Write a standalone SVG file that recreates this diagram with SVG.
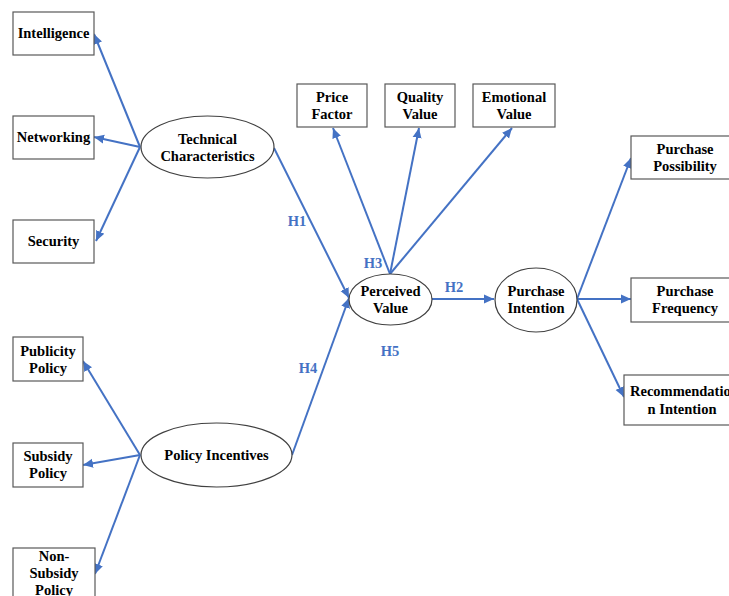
<svg xmlns="http://www.w3.org/2000/svg" width="729" height="596" viewBox="0 0 729 596">
<defs>
<marker id="ah" markerUnits="userSpaceOnUse" markerWidth="12" markerHeight="10" refX="10" refY="5" orient="auto">
<path d="M0,0.5 L10,5 L0,9.5 Z" fill="#4472C4"/>
</marker>
<style>
.box{fill:#fff;stroke:#595959;stroke-width:1.2}
.ell{fill:#fff;stroke:#404040;stroke-width:1.2}
.t{font-family:"Liberation Serif","DejaVu Serif","Times New Roman",serif;font-weight:bold;font-size:14.5px;fill:#000;text-anchor:middle}
.h{font-family:"Liberation Serif","DejaVu Serif","Times New Roman",serif;font-weight:bold;font-size:14.5px;fill:#4472C4;text-anchor:middle}
.c{stroke:#4472C4;stroke-width:2;fill:none;marker-end:url(#ah)}
</style>
</defs>
<rect width="729" height="596" fill="#fff"/>
<g id="connectors">
<line class="c" x1="140" y1="147" x2="94" y2="34"/>
<line class="c" x1="140" y1="147" x2="94" y2="137"/>
<line class="c" x1="140" y1="147" x2="96" y2="241"/>
<line class="c" x1="140" y1="455" x2="83" y2="361"/>
<line class="c" x1="140" y1="455" x2="83" y2="465"/>
<line class="c" x1="140" y1="455" x2="95" y2="574"/>
<line class="c" x1="274" y1="148" x2="349" y2="298"/>
<line class="c" x1="292" y1="455" x2="349" y2="298"/>
<line class="c" x1="390" y1="274" x2="333" y2="128"/>
<line class="c" x1="390" y1="274" x2="419" y2="128"/>
<line class="c" x1="390" y1="274" x2="512" y2="128"/>
<line class="c" x1="432" y1="299" x2="494" y2="299"/>
<line class="c" x1="577" y1="299" x2="631" y2="158"/>
<line class="c" x1="577" y1="299" x2="631" y2="299"/>
<line class="c" x1="577" y1="299" x2="624" y2="397"/>
<text class="h" x="297" y="226">H1</text>
<text class="h" x="373" y="268">H3</text>
<text class="h" x="454" y="292">H2</text>
<text class="h" x="390" y="356">H5</text>
<text class="h" x="308" y="373">H4</text>
</g>
<g id="intelligence"><rect class="box" x="13" y="12" width="81" height="43"/><text class="t" x="53.5" y="38">Intelligence</text></g>
<g id="networking"><rect class="box" x="13" y="116" width="81" height="43"/><text class="t" x="53.5" y="142">Networking</text></g>
<g id="security"><rect class="box" x="13" y="220" width="81" height="43"/><text class="t" x="53.5" y="246">Security</text></g>
<g id="technical"><ellipse class="ell" cx="207.5" cy="147" rx="66.5" ry="31"/><text class="t" x="207.5" y="143.5">Technical</text><text class="t" x="207.5" y="160.5">Characteristics</text></g>
<g id="price"><rect class="box" x="297" y="84" width="70" height="43"/><text class="t" x="332" y="101.5">Price</text><text class="t" x="332" y="118.5">Factor</text></g>
<g id="quality"><rect class="box" x="385" y="84" width="70" height="43"/><text class="t" x="420" y="101.5">Quality</text><text class="t" x="420" y="118.5">Value</text></g>
<g id="emotional"><rect class="box" x="473" y="84" width="82" height="43"/><text class="t" x="514" y="101.5">Emotional</text><text class="t" x="514" y="118.5">Value</text></g>
<g id="perceived"><ellipse class="ell" cx="390.5" cy="299.5" rx="41.5" ry="25.5"/><text class="t" x="390.5" y="295.5">Perceived</text><text class="t" x="390.5" y="312.5">Value</text></g>
<g id="intention"><ellipse class="ell" cx="536" cy="300" rx="41" ry="32"/><text class="t" x="536" y="295.5">Purchase</text><text class="t" x="536" y="312.5">Intention</text></g>
<g id="possibility"><rect class="box" x="631" y="136" width="108" height="43"/><text class="t" x="685" y="153.5">Purchase</text><text class="t" x="685" y="170.5">Possibility</text></g>
<g id="frequency"><rect class="box" x="631" y="278" width="108" height="44"/><text class="t" x="685" y="295.5">Purchase</text><text class="t" x="685" y="312.5">Frequency</text></g>
<g id="recommendation"><rect class="box" x="624" y="375" width="116" height="50"/><text class="t" x="630" y="395.5" style="text-anchor:start">Recommendatio</text><text class="t" x="682" y="413.5">n Intention</text></g>
<g id="policy"><ellipse class="ell" cx="216.5" cy="455" rx="75.5" ry="32"/><text class="t" x="216.5" y="459.5">Policy Incentives</text></g>
<g id="publicity"><rect class="box" x="13" y="337" width="70" height="44"/><text class="t" x="48" y="355.5">Publicity</text><text class="t" x="48" y="372.5">Policy</text></g>
<g id="subsidy"><rect class="box" x="13" y="443" width="70" height="44"/><text class="t" x="48" y="460.5">Subsidy</text><text class="t" x="48" y="477.5">Policy</text></g>
<g id="nonsubsidy"><rect class="box" x="13" y="548" width="82" height="60"/><text class="t" x="54" y="560.5">Non-</text><text class="t" x="54" y="577.5">Subsidy</text><text class="t" x="54" y="594.5">Policy</text></g>
</svg>
